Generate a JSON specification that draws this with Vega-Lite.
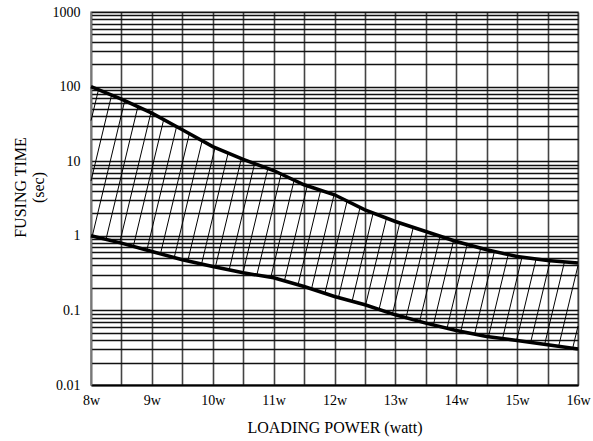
{
  "$schema": "https://vega.github.io/schema/vega-lite/v6.json",
  "width": 487,
  "height": 373,
  "autosize": {"type": "none"},
  "padding": {"left": 91, "top": 12, "right": 15, "bottom": 56},
  "background": "white",
  "config": {
    "view": {"stroke": "#999", "strokeWidth": 1.5},
    "font": "Liberation Serif",
    "axisX": {
      "values": [8, 8.5, 9, 9.5, 10, 10.5, 11, 11.5, 12, 12.5, 13, 13.5, 14, 14.5, 15, 15.5, 16],
      "labelExpr": "datum.value % 1 == 0 ? datum.value + 'w' : ''",
      "ticks": false,
      "grid": true, "gridColor": "#444", "gridWidth": 1.6,
      "domainColor": "black", "domainWidth": 2,
      "labelFont": "Liberation Serif", "labelFontSize": 14, "labelColor": "black",
      "labelPadding": 8, "labelOverlap": false, "labelFlush": false,
      "titleFont": "Liberation Serif", "titleFontSize": 16, "titleFontWeight": "normal", "titleColor": "black",
      "titleBaseline": "middle", "titleY": 42
    },
    "axisY": {
      "values": [0.01, 0.02, 0.03, 0.04, 0.05, 0.06, 0.07, 0.08, 0.09, 0.1, 0.2, 0.3, 0.4, 0.5, 0.6, 0.7, 0.8, 0.9, 1, 2, 3, 4, 5, 6, 7, 8, 9, 10, 20, 30, 40, 50, 60, 70, 80, 90, 100, 200, 300, 400, 500, 600, 700, 800, 900, 1000],
      "format": "~g",
      "labelExpr": "indexof([0.01, 0.1, 1, 10, 100, 1000], datum.value) >= 0 ? datum.label : ''",
      "ticks": false,
      "grid": true, "gridColor": "#111", "gridWidth": 1.6,
      "domainColor": "#777", "domainWidth": 1.5,
      "labelFont": "Liberation Serif", "labelFontSize": 14, "labelColor": "black",
      "labelPadding": 11, "labelOverlap": false, "labelFlush": false,
      "titleFont": "Liberation Serif", "titleFontSize": 16, "titleFontWeight": "normal", "titleColor": "black",
      "titleLineHeight": 18, "titleAngle": -90, "titleBaseline": "middle", "titleAlign": "center",
      "titleX": -71, "titleY": 175
    }
  },
  "datasets": {
    "hatch": [
      {"x1": 8, "y1": 35.0, "x2": 8.122, "y2": 90.0},
      {"x1": 8, "y1": 5.42, "x2": 8.338, "y2": 76.7},
      {"x1": 8.021, "y1": 0.99, "x2": 8.555, "y2": 64.9},
      {"x1": 8.246, "y1": 0.895, "x2": 8.770, "y2": 53.8},
      {"x1": 8.471, "y1": 0.808, "x2": 8.984, "y2": 44.7},
      {"x1": 8.695, "y1": 0.721, "x2": 9.194, "y2": 36.1},
      {"x1": 8.918, "y1": 0.643, "x2": 9.406, "y2": 29.1},
      {"x1": 9.141, "y1": 0.572, "x2": 9.616, "y2": 23.4},
      {"x1": 9.365, "y1": 0.502, "x2": 9.826, "y2": 18.8},
      {"x1": 9.589, "y1": 0.459, "x2": 10.038, "y2": 15.3},
      {"x1": 9.816, "y1": 0.419, "x2": 10.253, "y2": 12.9},
      {"x1": 10.043, "y1": 0.382, "x2": 10.470, "y2": 10.87},
      {"x1": 10.269, "y1": 0.349, "x2": 10.688, "y2": 9.31},
      {"x1": 10.496, "y1": 0.320, "x2": 10.906, "y2": 8.01},
      {"x1": 10.724, "y1": 0.298, "x2": 11.123, "y2": 6.73},
      {"x1": 10.954, "y1": 0.278, "x2": 11.337, "y2": 5.58},
      {"x1": 11.177, "y1": 0.2485, "x2": 11.553, "y2": 4.68},
      {"x1": 11.401, "y1": 0.2204, "x2": 11.773, "y2": 4.07},
      {"x1": 11.622, "y1": 0.194, "x2": 11.993, "y2": 3.56},
      {"x1": 11.842, "y1": 0.169, "x2": 12.207, "y2": 2.93},
      {"x1": 12.064, "y1": 0.1484, "x2": 12.420, "y2": 2.40},
      {"x1": 12.289, "y1": 0.1324, "x2": 12.635, "y2": 2.02},
      {"x1": 12.511, "y1": 0.1181, "x2": 12.854, "y2": 1.727},
      {"x1": 12.732, "y1": 0.1031, "x2": 13.072, "y2": 1.484},
      {"x1": 12.952, "y1": 0.0899, "x2": 13.294, "y2": 1.296},
      {"x1": 13.176, "y1": 0.0798, "x2": 13.514, "y2": 1.131},
      {"x1": 13.399, "y1": 0.0712, "x2": 13.736, "y2": 0.988},
      {"x1": 13.624, "y1": 0.0639, "x2": 13.956, "y2": 0.862},
      {"x1": 13.849, "y1": 0.0577, "x2": 14.179, "y2": 0.766},
      {"x1": 14.074, "y1": 0.0523, "x2": 14.402, "y2": 0.684},
      {"x1": 14.302, "y1": 0.0481, "x2": 14.627, "y2": 0.616},
      {"x1": 14.529, "y1": 0.0444, "x2": 14.854, "y2": 0.561},
      {"x1": 14.760, "y1": 0.0419, "x2": 15.080, "y2": 0.517},
      {"x1": 14.991, "y1": 0.0396, "x2": 15.312, "y2": 0.489},
      {"x1": 15.222, "y1": 0.0372, "x2": 15.543, "y2": 0.4637},
      {"x1": 15.452, "y1": 0.0350, "x2": 15.777, "y2": 0.4455},
      {"x1": 15.681, "y1": 0.0329, "x2": 16, "y2": 0.3986},
      {"x1": 15.912, "y1": 0.0310, "x2": 16, "y2": 0.0617}
    ],
    "curves": [
      {"s": "upper", "x": 8, "v": 100},
      {"s": "upper", "x": 8.5, "v": 68.0},
      {"s": "upper", "x": 9, "v": 44.1},
      {"s": "upper", "x": 9.5, "v": 26.4},
      {"s": "upper", "x": 10, "v": 15.7},
      {"s": "upper", "x": 10.5, "v": 10.6},
      {"s": "upper", "x": 11, "v": 7.5},
      {"s": "upper", "x": 11.5, "v": 4.83},
      {"s": "upper", "x": 12, "v": 3.55},
      {"s": "upper", "x": 12.5, "v": 2.23},
      {"s": "upper", "x": 13, "v": 1.555},
      {"s": "upper", "x": 13.5, "v": 1.142},
      {"s": "upper", "x": 14, "v": 0.839},
      {"s": "upper", "x": 14.5, "v": 0.649},
      {"s": "upper", "x": 15, "v": 0.528},
      {"s": "upper", "x": 15.5, "v": 0.4665},
      {"s": "upper", "x": 16, "v": 0.4305},
      {"s": "lower", "x": 8, "v": 1.0},
      {"s": "lower", "x": 8.5, "v": 0.798},
      {"s": "lower", "x": 9, "v": 0.616},
      {"s": "lower", "x": 9.5, "v": 0.477},
      {"s": "lower", "x": 10, "v": 0.388},
      {"s": "lower", "x": 10.5, "v": 0.319},
      {"s": "lower", "x": 11, "v": 0.2735},
      {"s": "lower", "x": 11.5, "v": 0.209},
      {"s": "lower", "x": 12, "v": 0.1536},
      {"s": "lower", "x": 12.5, "v": 0.1189},
      {"s": "lower", "x": 13, "v": 0.0873},
      {"s": "lower", "x": 13.5, "v": 0.0676},
      {"s": "lower", "x": 14, "v": 0.0538},
      {"s": "lower", "x": 14.5, "v": 0.0447},
      {"s": "lower", "x": 15, "v": 0.0395},
      {"s": "lower", "x": 15.5, "v": 0.0346},
      {"s": "lower", "x": 16, "v": 0.0303}
    ]
  },
  "layer": [
    {
      "data": {"name": "hatch"},
      "mark": {"type": "rule", "color": "black", "strokeWidth": 1},
      "encoding": {
        "x": {
          "field": "x1", "type": "quantitative",
          "scale": {"domain": [8, 16], "nice": false, "zero": false},
          "axis": {"title": "LOADING POWER (watt)", "values": [8, 8.5, 9, 9.5, 10, 10.5, 11, 11.5, 12, 12.5, 13, 13.5, 14, 14.5, 15, 15.5, 16]}
        },
        "x2": {"field": "x2"},
        "y": {
          "field": "y1", "type": "quantitative",
          "scale": {"type": "log", "domain": [0.01, 1000], "nice": false},
          "axis": {"title": ["FUSING TIME", "(sec)"]}
        },
        "y2": {"field": "y2"}
      }
    },
    {
      "data": {"name": "curves"},
      "mark": {"type": "line", "color": "black", "strokeWidth": 3.5},
      "encoding": {
        "x": {"field": "x", "type": "quantitative", "axis": {"title": "LOADING POWER (watt)", "values": [8, 8.5, 9, 9.5, 10, 10.5, 11, 11.5, 12, 12.5, 13, 13.5, 14, 14.5, 15, 15.5, 16]}},
        "y": {"field": "v", "type": "quantitative", "axis": {"title": ["FUSING TIME", "(sec)"]}},
        "detail": {"field": "s"}
      }
    }
  ]
}
